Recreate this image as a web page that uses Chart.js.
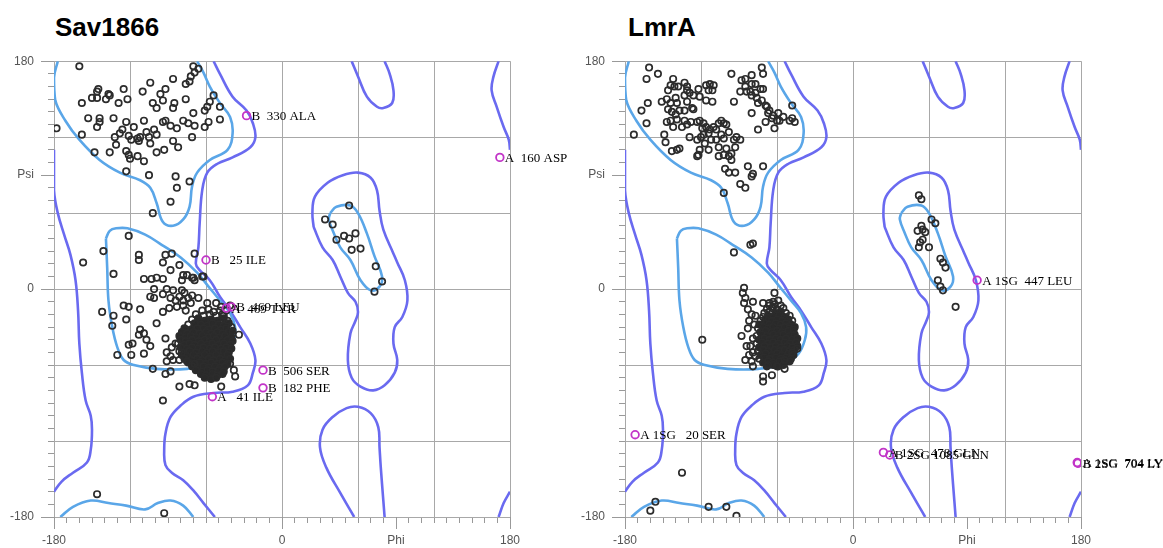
<!DOCTYPE html>
<html><head><meta charset="utf-8">
<script src="https://cdn.jsdelivr.net/npm/chart.js@4.4.1/dist/chart.umd.min.js"></script>
<style>
html,body{margin:0;padding:0;background:#fff;width:1163px;height:548px;overflow:hidden;position:relative;font-family:"Liberation Sans",Arial,sans-serif;}
.title{position:absolute;top:12px;font-weight:bold;font-size:26px;color:#000;line-height:30px;}
canvas{position:absolute;top:40px;}
</style></head><body>
<div class="title" style="left:55px">Sav1866</div>
<div class="title" style="left:628px">LmrA</div>
<canvas id="c1" width="570" height="508" style="left:0"></canvas>
<canvas id="c2" width="593" height="508" style="left:570px"></canvas>
<script>
// ---- axis tick labels ----
const phiTicks = [-180, 0, 90, 180];
const phiTickLabels = ['-180', '0', 'Phi', '180'];
const psiTicks = [180, 90, 0, -180];
const psiTickLabels = ['180', 'Psi', '0', '-180'];

// ---- contour lines (phi, psi) ----
const favoredBeta = [[-177,180],[-180,167],[-179,149],[-171,133],[-160,118],[-144,102],[-128,92],[-112,86],[-104,80],[-99,68],[-94,53],[-86,50],[-78,55],[-73,65],[-71,81],[-67,92],[-57,102],[-43,110],[-39,123],[-41,136],[-49,147],[-57,160],[-62,171],[-67,180]];
const favoredBetaBottom = [[-175,-180],[-165,-172],[-151,-167],[-137,-169],[-123,-171],[-108,-174],[-98,-169],[-88,-167],[-78,-171],[-70,-180]];
const favoredAlpha = [[-139,40],[-136,46],[-131,48],[-122,48],[-108,43],[-95,35],[-80,25],[-67,13],[-58,2],[-49,-9],[-41,-19],[-37,-30],[-38,-40],[-43,-51],[-54,-59],[-75,-63],[-99,-63],[-117,-60],[-125,-56],[-130,-46],[-134,-30],[-137,-9],[-138,17],[-139,40]];
const favoredLAlpha = [[38,60],[43,65],[54,66],[60,60],[67,44],[73,26],[79,10],[77,2],[70,-1],[62,7],[54,23],[46,33],[41,44],[37,55],[38,60]];
const allowedRight = [[-54,180],[-49,170],[-39,152],[-28,141],[-23,131],[-21,120],[-25,112],[-39,104],[-51,99],[-59,92],[-63,78],[-65,52],[-66,33],[-68,20],[-65,15],[-57,7],[-49,-6],[-41,-17],[-33,-30],[-25,-43],[-21,-56],[-23,-66],[-27,-76],[-39,-81],[-54,-82],[-70,-85],[-80,-92],[-88,-101],[-92,-114],[-93,-127],[-92,-139],[-87,-145],[-78,-151],[-70,-159],[-62,-169],[-53,-180]];
const allowedLeft = [[-180,110],[-180,78],[-177,60],[-172,43],[-167,27],[-163,7],[-161,-17],[-160,-43],[-158,-66],[-155,-88],[-151,-100],[-150,-111],[-151,-127],[-154,-137],[-165,-145],[-174,-152],[-180,-160]];
const allowedTopMid = [[55,180],[60,168],[67,152],[75,144],[80,143],[87,147],[88,157],[85,170],[81,180]];
const allowedBottomMid = [[57,-180],[46,-161],[35,-141],[30,-125],[32,-111],[40,-101],[51,-94],[60,-93],[70,-98],[76,-109],[77,-125],[78,-141],[80,-167],[81,-180]];
const allowedLAlpha = [[25,49],[32,33],[40,23],[46,10],[52,-3],[58,-10],[60,-18],[58,-25],[54,-35],[52,-56],[55,-70],[62,-77],[72,-80],[81,-76],[89,-66],[91,-56],[88,-43],[89,-30],[95,-22],[99,-9],[97,7],[91,21],[88,28],[80,47],[77,62],[75,78],[70,88],[60,92],[48,90],[36,84],[26,73],[24,60],[25,49]];
const allowedEdgeTop = [[171,180],[167,168],[165.5,157],[169.5,144],[175,128],[179,118],[180,110]];
const allowedEdgeBottom = [[171,-180],[175,-169],[180,-160]];

// ---- Sav1866 residues ----
const savBeta = [[-160,176],[-70,176],[-66,174],[-69,171],[-72,168],[-73,164],[-76,162],[-86,166],[-104,163],[-125,158],[-145,158],[-146,156],[-137,154],[-136,153],[-150,151],[-146,151],[-139,150],[-129,147],[-122,150],[-110,156],[-96,154],[-92,158],[-94,149],[-102,147],[-99,143],[-85,147],[-86,143],[-76,150],[-70,139],[-61,141],[-59,144],[-57,148],[-54,153],[-49,144],[-49,134],[-58,132],[-61,128],[-158,147],[-153,135],[-144,135],[-144,132],[-146,128],[-158,122],[-178,127],[-133,135],[-123,132],[-117,128],[-126,126],[-128,123],[-121,121],[-119,118],[-114,119],[-109,133],[-107,124],[-101,126],[-99,122],[-105,120],[-112,120],[-94,132],[-92,133],[-88,129],[-83,127],[-78,133],[-74,131],[-69,129],[-71,120],[-86,117],[-82,112],[-93,110],[-99,108],[-104,115],[-113,117],[-132,120],[-131,114],[-136,108],[-148,108],[-123,109],[-121,106],[-120,103],[-114,105],[-109,101],[-123,93],[-105,90],[-84,89],[-83,80],[-73,85],[-88,69],[-102,60]];
const savAlpha = [[-121,42],[-141,30],[-157,21],[-133,12],[-113,27],[-113,23],[-92,27],[-87,28],[-69,28],[-94,21],[-81,19],[-88,15],[-78,11],[-70,9],[-62,10],[-109,8],[-103,8],[-99,9],[-94,8],[-75,11],[-71,9],[-69,7],[-63,10],[-79,7],[-101,0],[-91,0],[-86,-1],[-79,-1],[-77,-3],[-81,-6],[-71,-5],[-66,-7],[-59,-11],[-104,-6],[-101,-7],[-94,-4],[-88,-7],[-84,-9],[-78,-9],[-74,-7],[-125,-13],[-121,-14],[-112,-16],[-142,-18],[-133,-21],[-123,-24],[-134,-29],[-99,-27],[-94,-18],[-89,-15],[-83,-14],[-78,-13],[-76,-17],[-72,-11],[-52,-11],[-48,-14],[-44,-17],[-46,-21],[-41,-13],[-112,-32],[-109,-35],[-113,-36],[-107,-40],[-104,-45],[-118,-43],[-121,-44],[-109,-51],[-119,-52],[-130,-52],[-92,-39],[-91,-50],[-87,-46],[-84,-43],[-88,-53],[-86,-56],[-91,-57],[-79,-50],[-81,-56],[-75,-57],[-69,-59],[-102,-63],[-92,-67],[-88,-65],[-81,-77],[-73,-75],[-69,-76],[-94,-88],[-48,-77],[-37,-69],[-34,-36],[-41,-59],[-38,-64],[-146,-162],[-93,-177]];
const savBlobEdge = [[-63,-17],[-58,-16],[-54,-18],[-49,-17],[-68,-20],[-62,-21],[-57,-20],[-52,-21],[-47,-20],[-71,-24],[-43,-25],[-74,-28],[-82,-43],[-81,-49],[-40,-30]];
const savBlob = [[-66,-23],[-61,-25],[-56,-24],[-51,-25],[-46,-23],[-69,-27],[-64,-28],[-59,-29],[-55,-27],[-50,-28],[-46,-29],[-42,-27],[-77,-31],[-72,-32],[-67,-31],[-62,-31],[-58,-32],[-53,-31],[-48,-32],[-44,-31],[-79,-34],[-75,-35],[-70,-34],[-65,-35],[-60,-34],[-56,-35],[-51,-34],[-47,-35],[-42,-34],[-39,-33],[-81,-37],[-76,-38],[-72,-37],[-68,-38],[-63,-37],[-58,-38],[-54,-37],[-49,-38],[-45,-37],[-40,-38],[-80,-40],[-76,-41],[-71,-40],[-66,-41],[-61,-40],[-57,-41],[-52,-40],[-47,-41],[-43,-40],[-39,-41],[-77,-44],[-73,-43],[-69,-44],[-64,-43],[-59,-44],[-55,-43],[-50,-44],[-46,-43],[-41,-44],[-80,-46],[-75,-47],[-71,-46],[-66,-47],[-62,-46],[-57,-47],[-53,-46],[-48,-47],[-44,-46],[-40,-47],[-77,-50],[-73,-49],[-68,-50],[-63,-49],[-59,-50],[-55,-49],[-50,-50],[-46,-49],[-42,-50],[-79,-52],[-75,-53],[-70,-52],[-65,-53],[-61,-52],[-56,-53],[-52,-52],[-47,-53],[-43,-52],[-77,-55],[-72,-56],[-67,-55],[-63,-56],[-58,-55],[-54,-56],[-49,-55],[-45,-56],[-41,-55],[-74,-58],[-69,-59],[-65,-58],[-60,-59],[-56,-58],[-51,-59],[-47,-58],[-43,-59],[-71,-61],[-67,-62],[-62,-61],[-58,-62],[-53,-61],[-49,-62],[-45,-61],[-68,-64],[-63,-65],[-59,-64],[-55,-65],[-50,-64],[-46,-65],[-64,-67],[-60,-68],[-55,-67],[-51,-68],[-47,-67],[-61,-70],[-56,-71],[-52,-70]];
const savLAlpha = [[53,66],[34,55],[40,51],[43,39],[49,42],[53,40],[58,44],[55,31],[62,32],[74,18],[79,6],[73,-2]];
const savOutliers = [[-28,137],[172,104],[-60,23],[-40,-14],[-44,-15],[-15,-64],[-15,-78],[-55,-85]];
const savOutlierLabels = ['B  330 ALA','A  160 ASP','B   25 ILE','B  469 LEU','A  469 TYR','B  506 SER','B  182 PHE','A   41 ILE'];

// ---- LmrA residues ----
const lmrBeta = [[-161,175],[-154,170],[-163,166],[-162,147],[-167,141],[-163,131],[-173,122],[-149,122],[-148,116],[-142,166],[-144,161],[-141,160],[-138,160],[-146,157],[-133,163],[-131,160],[-131,157],[-133,153],[-129,155],[-122,158],[-116,161],[-113,162],[-110,161],[-114,157],[-111,157],[-126,153],[-121,152],[-116,149],[-111,148],[-151,148],[-147,150],[-144,147],[-140,151],[-139,147],[-146,142],[-143,140],[-131,148],[-127,143],[-126,142],[-133,141],[-137,141],[-140,138],[-147,132],[-144,133],[-139,134],[-142,128],[-135,128],[-131,130],[-133,133],[-128,132],[-123,132],[-121,133],[-118,131],[-119,127],[-116,128],[-113,126],[-110,128],[-106,131],[-102,131],[-100,130],[-104,133],[-108,126],[-114,123],[-118,122],[-120,120],[-129,120],[-123,118],[-117,115],[-112,118],[-108,118],[-104,122],[-102,119],[-98,124],[-92,120],[-89,118],[-94,118],[-93,112],[-100,111],[-106,112],[-106,105],[-102,106],[-98,105],[-96,107],[-96,102],[-101,95],[-98,92],[-93,92],[-89,83],[-85,80],[-83,97],[-79,91],[-80,89],[-71,97],[-102,76],[-114,110],[-121,110],[-122,106],[-139,110],[-143,109],[-137,111],[-123,105],[-96,170],[-88,165],[-85,166],[-80,169],[-72,175],[-71,170],[-85,160],[-84,156],[-80,162],[-77,162],[-81,156],[-80,153],[-77,155],[-76,151],[-72,149],[-75,147],[-69,145],[-68,144],[-66,141],[-67,139],[-63,137],[-59,139],[-60,133],[-64,135],[-58,133],[-62,127],[-69,132],[-75,126],[-80,139],[-89,156],[-94,148],[-73,158],[-71,158],[-48,145],[-48,135],[-46,132],[-50,133],[-55,136]];
const lmrAlpha = [[-94,29],[-81,35],[-79,36],[-86,1],[-87,-3],[-85,-7],[-86,-11],[-83,-16],[-79,-10],[-77,-21],[-62,-3],[-71,-11],[-66,-11],[-63,-14],[-119,-40],[-83,-31],[-88,-37],[-84,-45],[-79,-39],[-85,-56],[-79,-61],[-80,-57],[-71,-69],[-71,-73],[-64,-68],[-54,-63],[-47,-32],[-44,-47],[-48,-50],[-67,-60],[-60,-61],[-54,-56],[-80,-20],[-82,-25],[-78,-28],[-81,-45],[-79,-50],[-77,-53],[-82,-52],[-135,-145],[-156,-168],[-160,-175],[-114,-172],[-100,-172],[-92,-179]];
const lmrBlobEdge = [[-63,-10],[-59,-9],[-66,-13],[-62,-12],[-57,-13],[-68,-16],[-64,-15],[-60,-16],[-55,-15],[-70,-19],[-66,-18],[-53,-19],[-71,-22],[-50,-21],[-73,-25],[-48,-25],[-75,-31],[-76,-37],[-76,-43],[-75,-49],[-74,-55]];
const lmrBlob = [[-61,-19],[-57,-18],[-67,-21],[-63,-22],[-58,-21],[-54,-22],[-69,-24],[-64,-25],[-60,-24],[-56,-25],[-51,-24],[-74,-28],[-70,-27],[-66,-28],[-61,-27],[-57,-28],[-53,-27],[-49,-28],[-71,-30],[-67,-31],[-63,-30],[-58,-31],[-54,-30],[-50,-31],[-46,-30],[-73,-34],[-69,-33],[-64,-34],[-60,-33],[-56,-34],[-51,-33],[-47,-34],[-72,-36],[-68,-37],[-63,-36],[-59,-37],[-55,-36],[-50,-37],[-46,-36],[-74,-40],[-70,-39],[-66,-40],[-61,-39],[-57,-40],[-53,-39],[-48,-40],[-44,-39],[-72,-42],[-67,-43],[-63,-42],[-59,-43],[-54,-42],[-50,-43],[-45,-42],[-74,-46],[-70,-45],[-65,-46],[-61,-45],[-57,-46],[-52,-45],[-48,-46],[-44,-45],[-71,-48],[-67,-49],[-62,-48],[-58,-49],[-54,-48],[-50,-49],[-46,-48],[-73,-52],[-69,-51],[-64,-52],[-60,-51],[-56,-52],[-51,-51],[-47,-52],[-70,-54],[-66,-55],[-61,-54],[-57,-55],[-53,-54],[-49,-55],[-71,-58],[-67,-57],[-63,-58],[-58,-57],[-54,-58],[-50,-57],[-68,-61],[-63,-60],[-59,-61],[-55,-60]];
const lmrLAlpha = [[52,74],[54,71],[62,55],[65,52],[54,50],[55,47],[51,46],[57,45],[53,37],[55,39],[52,33],[60,33],[69,24],[71,21],[73,17],[67,7],[69,2],[71,-1],[81,-14]];
const lmrOutliers = [[98,7],[-172,-115],[24,-129],[29,-131],[177,-137],[177.5,-137.5]];
const lmrOutlierLabels = ['A 1SG  447 LEU','A 1SG   20 SER','A 1SG  478 GLN','B 2SG 1085 GLN','A 1SG  704 LYS','B 2SG  704 LYS'];

// ---- styles ----
const DARK = '#6a6af0', LIGHT = '#5aa6e8', PT = '#2c2c2c', MAG = '#c235c8', GRID = '#a8a8a8';
const xy = a => a.map(p => ({x: p[0], y: p[1]}));

function contour(a, color) {
  return {data: xy(a), showLine: true, borderColor: color, borderWidth: 2.6, pointRadius: 0, tension: 0.4, fill: false, order: 2};
}
function pts(a, dense) {
  return {data: xy(a), pointRadius: 3.2, pointBorderWidth: 1.7, pointBorderColor: PT,
    pointBackgroundColor: dense ? '#2a2a2a' : 'rgba(0,0,0,0)', showLine: false, order: 1};
}
function outl(a, labels) {
  return {data: xy(a), pointRadius: 3.8, pointBorderWidth: 1.8, pointBorderColor: MAG, pointBackgroundColor: 'rgba(255,255,255,0)', showLine: false, order: 0, pointLabels: labels};
}

const labelPlugin = {
  id: 'outlierLabels',
  afterDatasetsDraw(chart) {
    const ctx = chart.ctx;
    chart.data.datasets.forEach((ds, i) => {
      if (!ds.pointLabels) return;
      const meta = chart.getDatasetMeta(i);
      ctx.save();
      ctx.font = '13px "Liberation Serif", "Times New Roman", serif';
      ctx.fillStyle = '#000';
      ctx.textBaseline = 'middle';
      meta.data.forEach((el, j) => ctx.fillText(ds.pointLabels[j], el.x + 5, el.y + 1));
      ctx.restore();
    });
  }
};
const longTicks = {
  id: 'longTicks',
  afterDraw(chart) {
    const ctx = chart.ctx, xs = chart.scales.x, ys = chart.scales.y, a = chart.chartArea;
    ctx.save();
    ctx.strokeStyle = '#999'; ctx.lineWidth = 1;
    ctx.beginPath();
    phiTicks.forEach(v => { const p = Math.round(xs.getPixelForValue(v)) + 0.5; ctx.moveTo(p, a.bottom); ctx.lineTo(p, a.bottom + 12); });
    psiTicks.forEach(v => { const p = Math.round(ys.getPixelForValue(v)) + 0.5; ctx.moveTo(a.left - 13, p); ctx.lineTo(a.left, p); });
    ctx.stroke();
    ctx.restore();
  }
};

function axis(isX, tickVals, tickLabs, size) {
  return {
    type: 'linear', min: -180, max: 180,
    afterBuildTicks: s => { const t = []; for (let v = -180; v <= 180; v += 10) t.push({value: v}); s.ticks = t; },
    afterFit: s => { if (isX) s.height = size; else s.width = size; },
    ticks: {
      autoSkip: false, maxRotation: 0, padding: isX ? 10 : 14, color: '#555',
      font: {family: '"Liberation Sans", Arial, sans-serif', size: 12},
      callback: v => { const i = tickVals.indexOf(v); return i >= 0 ? tickLabs[i] : ''; }
    },
    grid: {
      color: c => (c.tick && c.tick.value % 60 === 0) ? GRID : 'rgba(0,0,0,0)',
      tickColor: '#999', tickLength: 6, lineWidth: 1
    },
    border: {display: false}
  };
}

function makeChart(id, yWidth, padRight, sets) {
  return new Chart(document.getElementById(id), {
    type: 'scatter',
    data: {datasets: sets},
    options: {
      responsive: false, animation: false, events: [], devicePixelRatio: 1,
      layout: {padding: {left: 0, top: 21, right: padRight, bottom: 0}},
      plugins: {legend: {display: false}, tooltip: {enabled: false}},
      scales: {
        x: axis(true, phiTicks, phiTickLabels, 31),
        y: axis(false, psiTicks, psiTickLabels, yWidth)
      }
    },
    plugins: [labelPlugin, longTicks]
  });
}

function contourSets() {
  return [
    contour(favoredBeta, LIGHT), contour(favoredBetaBottom, LIGHT), contour(favoredAlpha, LIGHT), contour(favoredLAlpha, LIGHT),
    contour(allowedRight, DARK), contour(allowedLeft, DARK), contour(allowedTopMid, DARK), contour(allowedBottomMid, DARK),
    contour(allowedLAlpha, DARK), contour(allowedEdgeTop, DARK), contour(allowedEdgeBottom, DARK)
  ];
}

makeChart('c1', 54, 60, [
  outl(savOutliers, savOutlierLabels),
  pts(savBeta, false), pts(savAlpha, false), pts(savBlobEdge, false), pts(savBlob, true), pts(savLAlpha, false),
  ...contourSets()
]);
makeChart('c2', 55, 82, [
  outl(lmrOutliers, lmrOutlierLabels),
  pts(lmrBeta, false), pts(lmrAlpha, false), pts(lmrBlobEdge, false), pts(lmrBlob, true), pts(lmrLAlpha, false),
  ...contourSets()
]);
</script></body></html>
